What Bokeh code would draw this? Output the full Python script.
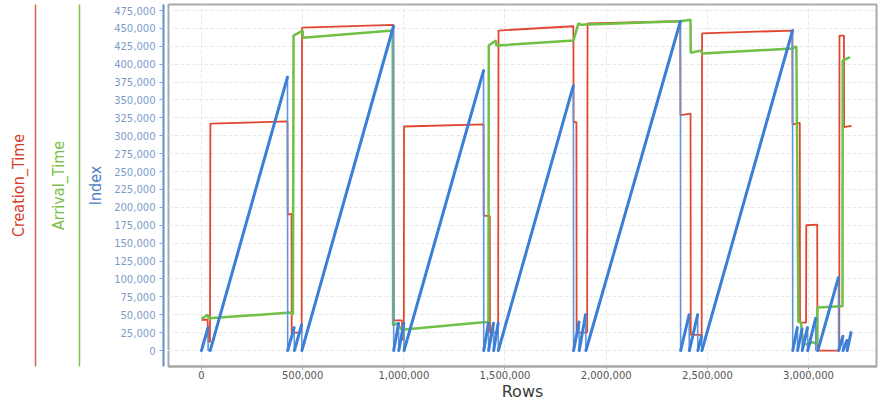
from bokeh.plotting import figure
from bokeh.models import (LinearAxis, FixedTicker, SingleIntervalTicker,
                          NumeralTickFormatter, Range1d)
from bokeh.embed import file_html
from bokeh.resources import INLINE

# ---------------- data ----------------
x_ticks = [0, 500000, 1000000, 1500000, 2000000, 2500000, 3000000]

index_rows = [0, 32e3, 33e3, 43e3, 425e3, 426e3, 458e3, 459e3, 495e3, 496e3,
              949e3, 950e3, 974e3, 975e3, 1000e3, 1001e3, 1394e3, 1395e3, 1418e3, 1419e3,
              1443e3, 1444e3, 1466e3, 1467e3, 1838e3, 1839e3, 1866e3, 1867e3, 1898e3, 1900e3,
              2367e3, 2368e3, 2410e3, 2411e3, 2452e3, 2453e3, 2472e3, 2473e3, 2921e3, 2922e3,
              2945e3, 2946e3, 2968e3, 2969e3, 2995e3, 2996e3, 3035e3, 3036e3, 3046e3, 3148e3,
              3149e3, 3170e3, 3171e3, 3190e3, 3191e3, 3210e3]
index_vals = [0, 32e3, 0, 0, 382e3, 0, 32e3, 0, 36e3, 0,
              453e3, 0, 38e3, 0, 38e3, 0, 391e3, 0, 38e3, 0,
              38e3, 0, 38e3, 0, 370e3, 0, 40e3, 0, 50e3, 0,
              460e3, 0, 50e3, 0, 50e3, 0, 20e3, 0, 447e3, 0,
              32e3, 0, 30e3, 0, 32e3, 0, 45e3, 0, 0, 102e3,
              0, 20e3, 0, 14e3, 0, 25e3]

creation_rows = [0, 30e3, 35e3, 42e3, 44e3, 425e3, 426e3, 445e3, 446e3, 495e3,
                 497e3, 948e3, 950e3, 990e3, 995e3, 1000e3, 1001e3, 1394e3, 1395e3, 1425e3,
                 1426e3, 1466e3, 1468e3, 1838e3, 1839e3, 1853e3, 1854e3, 1906e3, 1908e3, 2366e3,
                 2367e3, 2417e3, 2418e3, 2472e3, 2474e3, 2920e3, 2921e3, 2957e3, 2958e3, 2988e3,
                 2989e3, 3043e3, 3044e3, 3152e3, 3153e3, 3175e3, 3176e3, 3212e3]
creation_vals = [43e3, 43e3, 12e3, 12e3, 317e3, 320e3, 190e3, 191e3, 25e3, 25e3,
                 451e3, 455e3, 42e3, 42e3, 15e3, 15e3, 313e3, 316e3, 188e3, 188e3,
                 25e3, 25e3, 447e3, 453e3, 319e3, 319e3, 25e3, 25e3, 457e3, 460e3,
                 329e3, 331e3, 22e3, 22e3, 443e3, 447e3, 316e3, 318e3, 39e3, 39e3,
                 175e3, 176e3, 0, 0, 440e3, 440e3, 312e3, 314e3]

arrival_rows = [0, 30e3, 36e3, 440e3, 452e3, 455e3, 500e3, 502e3, 945e3, 947e3,
                965e3, 990e3, 1379e3, 1418e3, 1420e3, 1455e3, 1458e3, 1838e3, 1863e3, 1875e3,
                2367e3, 2417e3, 2418e3, 2466e3, 2476e3, 2921e3, 2940e3, 2950e3, 2962e3, 2975e3,
                3000e3, 3020e3, 3043e3, 3044e3, 3158e3, 3168e3, 3169e3, 3205e3]
arrival_vals = [44e3, 50e3, 45e3, 53e3, 50e3, 440e3, 447e3, 437e3, 447e3, 35e3,
                38e3, 29e3, 39e3, 40e3, 426e3, 433e3, 426e3, 433e3, 457e3, 455e3,
                460e3, 462e3, 416e3, 419e3, 415e3, 422e3, 425e3, 40e3, 40e3, 10e3,
                8e3, 12e3, 8e3, 60e3, 62e3, 62e3, 405e3, 410e3]

RED = "#e0472f"
GREEN = "#6fc046"
BLUE = "#3b7fd6"
BLUE_THIN = "#5f95db"
NARROW = "'Liberation Sans Narrow', 'DejaVu Sans Condensed', 'Arial Narrow', sans-serif"

p = figure(width=880, height=403, output_backend="svg", toolbar_location=None,
           x_range=Range1d(-163000, 3336000), y_range=Range1d(-22300, 483400),
           min_border_left=168, min_border_right=4, min_border_top=4, min_border_bottom=0,
           background_fill_color="white", border_fill_color="white")
p.outline_line_color = "#a9a9a9"
p.outline_line_width = 2

# grids
p.xgrid.ticker = FixedTicker(ticks=x_ticks)
p.ygrid.ticker = SingleIntervalTicker(interval=25000)
for g in (p.xgrid, p.ygrid):
    g.grid_line_color = "#e8e8e8"
    g.grid_line_dash = "4 2"
    g.grid_line_width = 1

# x axis
xa = p.xaxis[0]
xa.ticker = FixedTicker(ticks=x_ticks)
xa.formatter = NumeralTickFormatter(format="0,0")
xa.axis_label = "Rows"
xa.axis_label_text_font = "DejaVu Sans"
xa.axis_label_text_font_size = "16px"
xa.axis_label_text_font_style = "normal"
xa.axis_label_text_color = "#3a3a3a"
xa.axis_label_standoff = 0
xa.major_label_text_font = "DejaVu Sans"
xa.major_label_text_font_size = "10px"
xa.major_label_text_color = "#555555"
xa.major_label_standoff = 1
xa.axis_line_color = "#a8a8a8"
xa.axis_line_width = 2
xa.major_tick_out = 3
xa.major_tick_in = 0
xa.major_tick_line_color = "#a8a8a8"
xa.minor_tick_line_color = None


def make_spacer(ax, w):
    ax.ticker = FixedTicker(ticks=[0])
    ax.major_label_overrides = {0: ""}
    ax.axis_line_color = None
    ax.major_tick_line_color = "white"
    ax.major_tick_out = w
    ax.major_tick_in = 0
    ax.minor_tick_out = 0
    ax.minor_tick_line_color = None
    return ax


def label_style(ax, text, color, standoff):
    ax.axis_label = text
    ax.axis_label_text_font = NARROW
    ax.axis_label_text_font_size = "16px"
    ax.axis_label_text_font_style = "normal"
    ax.axis_label_text_color = color
    ax.axis_label_standoff = standoff


# spacer between frame and Index axis (default y axis)
make_spacer(p.yaxis[0], 5)

idx = LinearAxis(ticker=SingleIntervalTicker(interval=25000),
                 formatter=NumeralTickFormatter(format="0,0"))
label_style(idx, "Index", "#4a7ec4", 6)
idx.axis_line_color = "#5b8fd0"
idx.axis_line_width = 2
idx.major_tick_out = 4
idx.major_tick_in = 0
idx.major_tick_line_color = "#7ea3d6"
idx.minor_tick_line_color = None
idx.major_label_text_font = "DejaVu Sans"
idx.major_label_text_font_size = "10px"
idx.major_label_text_color = "#7b9bcb"
idx.major_label_standoff = 4
p.add_layout(idx, "left")

p.add_layout(make_spacer(LinearAxis(), 4), "left")

arr = LinearAxis(ticker=FixedTicker(ticks=[]))
label_style(arr, "Arrival_Time", "#78c043", 12)
arr.axis_line_color = "#7cc24a"
arr.axis_line_width = 1.5
arr.major_tick_out = 0
p.add_layout(arr, "left")

p.add_layout(make_spacer(LinearAxis(), 10), "left")

cre = LinearAxis(ticker=FixedTicker(ticks=[]))
label_style(cre, "Creation_Time", "#d63c28", 8)
cre.axis_line_color = "#e0604a"
cre.axis_line_width = 1.5
cre.major_tick_out = 0
p.add_layout(cre, "left")

# series
p.line(creation_rows, creation_vals, line_color=RED, line_width=1.8)
p.line(arrival_rows, arrival_vals, line_color=GREEN, line_width=2.5)
p.line(index_rows, index_vals, line_color=BLUE_THIN, line_width=1.6)

# rising parts of Index drawn heavier, as in the original rendering
up = [i for i in range(len(index_rows) - 1) if index_vals[i + 1] > index_vals[i]]
p.segment(x0=[index_rows[i] for i in up], y0=[index_vals[i] for i in up],
          x1=[index_rows[i + 1] for i in up], y1=[index_vals[i + 1] for i in up],
          line_color=BLUE, line_width=3, line_cap="round")

open("out.html", "w").write(file_html(p, INLINE))
